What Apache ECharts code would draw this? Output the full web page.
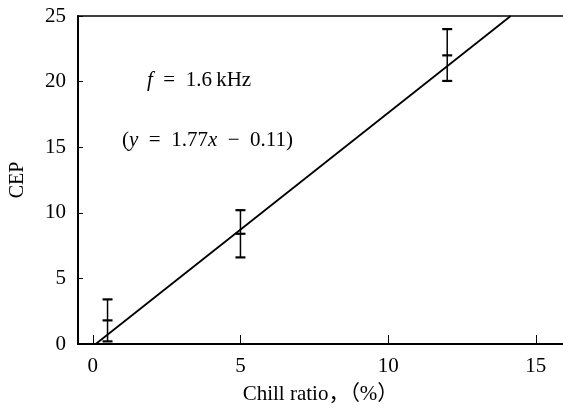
<!DOCTYPE html>
<html><head><meta charset="utf-8">
<script src="https://cdn.jsdelivr.net/npm/echarts@6/dist/echarts.min.js"></script>
<style>html,body{margin:0;padding:0;background:#fff}#c{width:563px;height:410px}</style>
</head><body><div id="c"></div>
<script>
// Data
var ratioX = [0.5, 5, 12];
var cepMean = [1.8, 8.4, 22.0];
var cepLow = [0.2, 6.6, 20.05];
var cepHigh = [3.4, 10.2, 24.0];
var fitX = [0.1, 14.15];
var fitY = [0, 25];
var xTicks = [0, 5, 10, 15];
var yTicks = [0, 5, 10, 15, 20, 25];

var serif = '"Liberation Serif", "Times New Roman", "Noto Sans CJK SC", serif';
var errData = ratioX.map(function (x, i) { return [x, cepMean[i], cepLow[i], cepHigh[i]]; });
var fitData = fitX.map(function (x, i) { return [x, fitY[i]]; });

var chart = echarts.init(document.getElementById('c'));
chart.setOption({
  animation: false,
  backgroundColor: '#fff',
  grid: { left: 76, right: 0, top: 16, bottom: 63 },
  xAxis: [{
    type: 'value', min: -0.5, max: 15.92, interval: 5,
    name: 'Chill ratio，（%）', nameLocation: 'middle', nameGap: 40,
    nameTextStyle: { fontFamily: serif, fontSize: 21, color: '#000' },
    axisLine: { onZero: false, lineStyle: { color: '#000', width: 2 } },
    axisTick: { inside: true, length: 9, lineStyle: { color: '#000', width: 1 }, customValues: xTicks },
    axisLabel: { fontFamily: serif, fontSize: 21, color: '#000', margin: 12, customValues: xTicks },
    splitLine: { show: false }
  }, {
    type: 'value', position: 'top', min: -0.5, max: 15.92,
    axisLine: { onZero: false, lineStyle: { color: '#000', width: 1.5 } },
    axisTick: { show: false }, axisLabel: { show: false }, splitLine: { show: false }
  }],
  yAxis: {
    type: 'value', min: 0, max: 25, interval: 5,
    name: 'CEP', nameLocation: 'middle', nameGap: 50,
    nameTextStyle: { fontFamily: serif, fontSize: 20, color: '#000' },
    axisLine: { onZero: false, lineStyle: { color: '#000', width: 2 } },
    axisTick: { inside: true, length: 5, lineStyle: { color: '#000', width: 1 } },
    axisLabel: { fontFamily: serif, fontSize: 21, color: '#000', margin: 12 },
    splitLine: { show: false }
  },
  series: [
    {
      type: 'line', data: fitData, symbol: 'none',
      lineStyle: { color: '#000', width: 1.8 }
    },
    {
      type: 'custom', data: errData,
      encode: { x: 0, y: [1, 2, 3] },
      renderItem: function (params, api) {
        var x = api.value(0);
        var c = api.coord([x, api.value(1)]);
        var lo = api.coord([x, api.value(2)]);
        var hi = api.coord([x, api.value(3)]);
        var hw = 5;
        var st = { stroke: '#000', lineWidth: 1.5 };
        var cap = { stroke: '#000', lineWidth: 2.2 };
        return {
          type: 'group', children: [
            { type: 'line', shape: { x1: lo[0], y1: lo[1], x2: hi[0], y2: hi[1] }, style: st },
            { type: 'line', shape: { x1: lo[0] - hw, y1: lo[1], x2: lo[0] + hw, y2: lo[1] }, style: cap },
            { type: 'line', shape: { x1: hi[0] - hw, y1: hi[1], x2: hi[0] + hw, y2: hi[1] }, style: cap },
            { type: 'line', shape: { x1: c[0] - hw, y1: c[1], x2: c[0] + hw, y2: c[1] }, style: cap }
          ]
        };
      }
    }
  ],
  graphic: [
    { type: 'text', left: 147, top: 70,
      style: { text: '{i|f}\u2002=\u20021.6\u2009kHz', font: '21px ' + serif, fill: '#000',
        rich: { i: { fontStyle: 'italic', fontFamily: serif, fontSize: 21 } } } },
    { type: 'text', left: 122, top: 130,
      style: { text: '({i|y}\u2002=\u20021.77{i|x}\u2002−\u20020.11)', font: '21px ' + serif, fill: '#000',
        rich: { i: { fontStyle: 'italic', fontFamily: serif, fontSize: 21 } } } }
  ]
});
</script></body></html>
